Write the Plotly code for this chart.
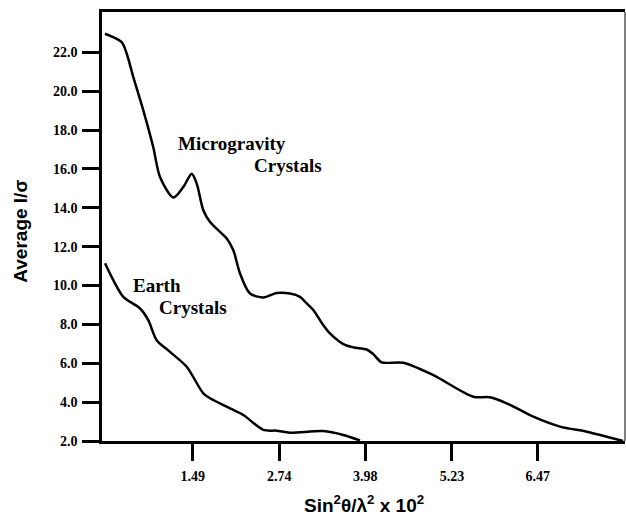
import plotly.graph_objects as go

# Microgravity crystals curve
micro_x = [0.224, 0.465, 0.538, 0.633, 0.777, 0.92, 1.018, 1.21, 1.354, 1.476, 1.548, 1.643, 1.74,
           1.981, 2.076, 2.173, 2.317, 2.509, 2.702, 2.894, 3.038, 3.135, 3.23, 3.375, 3.471, 3.663,
           3.807, 4.001, 4.096, 4.217, 4.529, 4.962, 5.539, 5.78, 6.021, 6.405, 6.79, 7.175, 7.464, 7.70]
micro_y = [22.96, 22.53, 21.93, 20.73, 19.02, 17.13, 15.59, 14.53, 15.07, 15.76, 15.25, 13.88, 13.27,
           12.42, 11.82, 10.62, 9.59, 9.39, 9.62, 9.59, 9.42, 9.08, 8.74, 7.96, 7.54, 6.99,
           6.82, 6.71, 6.47, 6.05, 6.03, 5.39, 4.28, 4.25, 3.94, 3.25, 2.74, 2.48, 2.22, 2.0]

# Earth crystals curve
earth_x = [0.225, 0.344, 0.489, 0.73, 0.849, 0.97, 1.162, 1.403, 1.643, 1.74, 2.028, 2.22, 2.509,
           2.702, 2.894, 3.375, 3.663, 3.904]
earth_y = [11.15, 10.28, 9.42, 8.82, 8.22, 7.19, 6.59, 5.82, 4.45, 4.2, 3.68, 3.34, 2.57,
           2.53, 2.43, 2.51, 2.31, 2.03]

x_ticks = [1.49, 2.74, 3.98, 5.23, 6.47]
y_ticks = [2.0, 4.0, 6.0, 8.0, 10.0, 12.0, 14.0, 16.0, 18.0, 20.0, 22.0]

serif = "Liberation Serif"
sans = "Liberation Sans"

fig = go.Figure()
fig.add_trace(go.Scatter(x=micro_x, y=micro_y, mode="lines",
                         line=dict(color="black", width=2.5, shape="spline", smoothing=0.8),
                         showlegend=False))
fig.add_trace(go.Scatter(x=earth_x, y=earth_y, mode="lines",
                         line=dict(color="black", width=2.5, shape="spline", smoothing=0.8),
                         showlegend=False))

lab_font = dict(family=serif, size=19, color="black", weight="bold")
fig.add_annotation(x=2.057, y=17.29, text="Microgravity", showarrow=False, font=lab_font)
fig.add_annotation(x=2.865, y=16.16, text="Crystals", showarrow=False, font=lab_font)
fig.add_annotation(x=0.975, y=9.98, text="Earth", showarrow=False, font=lab_font)
fig.add_annotation(x=1.494, y=8.85, text="Crystals", showarrow=False, font=lab_font)

# axis titles
fig.add_annotation(xref="paper", yref="paper", x=0.5, y=-0.148, xanchor="center", yanchor="middle",
                   text="Sin<sup>2</sup>θ/λ<sup>2</sup> x 10<sup>2</sup>", showarrow=False,
                   font=dict(family=sans, size=19, color="black", weight="bold"))
fig.add_annotation(xref="paper", yref="paper", x=-0.155, y=0.49, xanchor="center", yanchor="middle",
                   text="Average I/σ", textangle=-90, showarrow=False,
                   font=dict(family=sans, size=19, color="black", weight="bold"))

# thin right frame
fig.add_shape(type="line", xref="paper", yref="paper", x0=1, x1=1, y0=0, y1=1,
              line=dict(color="#555555", width=1.5))

fig.update_xaxes(range=[0.181, 7.728], tickvals=x_ticks, ticktext=[f"{v:.2f}" for v in x_ticks],
                 ticks="outside", ticklen=17, tickwidth=2.5, tickcolor="black",
                 showline=True, linewidth=2.5, linecolor="black", mirror=True,
                 showgrid=False, zeroline=False, ticklabelstandoff=3,
                 tickfont=dict(family=serif, size=14, color="black", weight="bold"))
fig.update_yaxes(range=[2.0, 24.08], tickvals=y_ticks, ticktext=[f"{v:.1f}" for v in y_ticks],
                 ticks="outside", ticklen=17, tickwidth=2.5, tickcolor="black",
                 showline=True, linewidth=2.5, linecolor="black", mirror=False,
                 showgrid=False, zeroline=False, ticklabelstandoff=2,
                 tickfont=dict(family=serif, size=14, color="black", weight="bold"))

fig.update_layout(width=626, height=515, margin=dict(l=102, r=1, t=12, b=74),
                  plot_bgcolor="white", paper_bgcolor="white")

fig.write_html("out.html", config={"displayModeBar": False},
               post_script="document.body.style.margin='0';document.body.style.overflow='hidden';")
